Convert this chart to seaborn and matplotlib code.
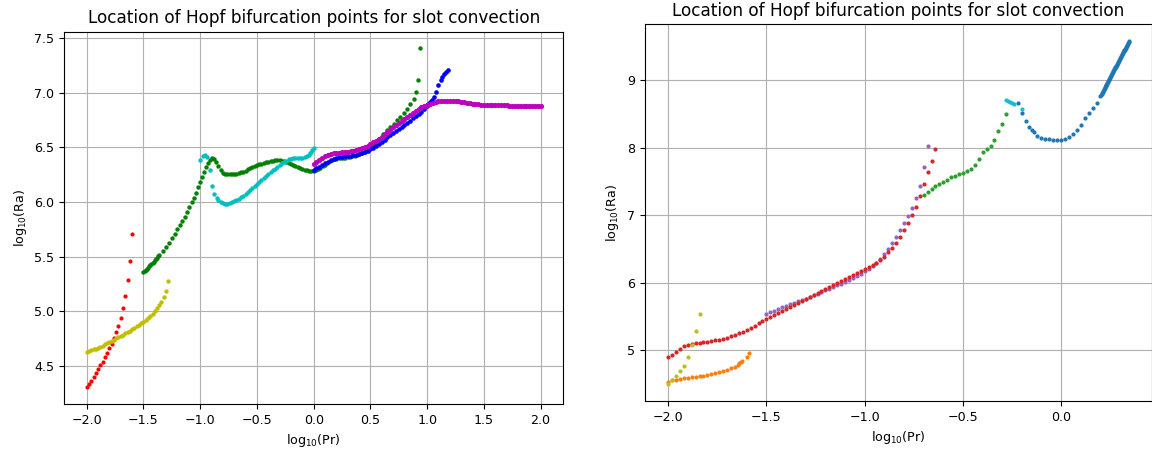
import matplotlib
matplotlib.use("Agg")
import matplotlib.pyplot as plt
import seaborn as sns

# ---------------- left panel: branches of Hopf points ----------------
red_pr = [-2.00, -1.98, -1.96, -1.94, -1.92, -1.90, -1.88, -1.86, -1.84, -1.82, -1.80,
          -1.78, -1.76, -1.74, -1.72, -1.70, -1.68, -1.66, -1.64, -1.62, -1.60]
red_ra = [4.302, 4.332, 4.363, 4.399, 4.433, 4.470, 4.503, 4.537, 4.577, 4.617, 4.660,
          4.702, 4.754, 4.806, 4.867, 4.940, 5.029, 5.142, 5.286, 5.463, 5.711]

yel_pr = [-2.00, -1.98, -1.96, -1.94, -1.92, -1.90, -1.88, -1.86, -1.84, -1.82, -1.80,
          -1.78, -1.76, -1.74, -1.72, -1.70, -1.68, -1.66, -1.64, -1.62, -1.60, -1.58,
          -1.56, -1.54, -1.52, -1.50, -1.48, -1.46, -1.44, -1.42, -1.40, -1.384, -1.366,
          -1.346, -1.322, -1.299, -1.282]
yel_ra = [4.626, 4.634, 4.642, 4.650, 4.658, 4.666, 4.675, 4.685, 4.695, 4.706, 4.717,
          4.728, 4.739, 4.750, 4.762, 4.774, 4.786, 4.798, 4.810, 4.823, 4.836, 4.849,
          4.862, 4.876, 4.890, 4.904, 4.920, 4.936, 4.953, 4.972, 4.998, 5.026, 5.054,
          5.087, 5.127, 5.185, 5.277]

grn_pr = [-1.500, -1.490, -1.480, -1.470, -1.460, -1.450, -1.440, -1.430, -1.420, -1.410,
          -1.400, -1.390, -1.380, -1.370, -1.361, -1.331, -1.302, -1.276, -1.249, -1.225,
          -1.202, -1.179, -1.158, -1.137, -1.117, -1.097, -1.076, -1.055, -1.038, -1.020,
          -1.003, -0.985, -0.967, -0.950, -0.932, -0.915, -0.897, -0.879, -0.862, -0.844,
          -0.820,
          -0.80, -0.78, -0.76, -0.74, -0.72, -0.70, -0.68, -0.66, -0.64, -0.62, -0.60,
          -0.58, -0.56, -0.54, -0.52, -0.50, -0.48, -0.46, -0.44, -0.42, -0.40, -0.38,
          -0.36, -0.34, -0.32, -0.30, -0.28, -0.26, -0.24, -0.22, -0.20, -0.18, -0.16,
          -0.14, -0.12, -0.10, -0.08, -0.06, -0.04, -0.02, 0.00,
          0.02, 0.04, 0.06, 0.08, 0.10, 0.12, 0.14, 0.16, 0.18, 0.20, 0.22, 0.24, 0.26,
          0.28, 0.30, 0.32, 0.34, 0.36, 0.38, 0.40, 0.42, 0.44, 0.46, 0.48, 0.50, 0.52,
          0.54, 0.56, 0.58,
          0.611, 0.646, 0.676, 0.705, 0.734, 0.764, 0.793, 0.822, 0.852, 0.881, 0.902,
          0.919, 0.940]
grn_ra = [5.362, 5.370, 5.379, 5.389, 5.400, 5.411, 5.422, 5.433, 5.444, 5.455,
          5.467, 5.479, 5.491, 5.503, 5.512, 5.549, 5.589, 5.628, 5.669, 5.708,
          5.751, 5.791, 5.830, 5.867, 5.910, 5.953, 5.996, 6.039, 6.082, 6.133,
          6.179, 6.228, 6.271, 6.320, 6.357, 6.387, 6.403, 6.394, 6.362, 6.326,
          6.295,
          6.266, 6.261, 6.257, 6.255, 6.255, 6.257, 6.261, 6.266, 6.272, 6.279, 6.288,
          6.298, 6.308, 6.318, 6.327, 6.336, 6.344, 6.352, 6.359, 6.365, 6.371, 6.376,
          6.380, 6.382, 6.383, 6.382, 6.379, 6.373, 6.366, 6.358, 6.349, 6.340, 6.331,
          6.321, 6.312, 6.303, 6.296, 6.290, 6.286, 6.284, 6.284,
          6.290, 6.300, 6.313, 6.328, 6.343, 6.358, 6.372, 6.383, 6.391, 6.396, 6.399,
          6.402, 6.404, 6.406, 6.409, 6.413, 6.418, 6.424, 6.431, 6.439, 6.448, 6.458,
          6.470, 6.484, 6.499, 6.515, 6.533, 6.553, 6.578,
          6.626, 6.656, 6.684, 6.715, 6.748, 6.779, 6.812, 6.852, 6.901, 6.947, 7.011,
          7.115, 7.408]

cyn_pr = [-1.003, -0.979, -0.959, -0.941, -0.917, -0.897, -0.879, -0.856,
          -0.84, -0.82, -0.80, -0.78, -0.76, -0.74, -0.72, -0.70, -0.68, -0.66, -0.64,
          -0.62, -0.60, -0.58, -0.56, -0.54, -0.52, -0.50, -0.48, -0.46, -0.44, -0.42,
          -0.40, -0.38, -0.36, -0.34, -0.32, -0.30, -0.28, -0.26, -0.24, -0.22, -0.20,
          -0.18, -0.16, -0.14, -0.12, -0.10, -0.08, -0.06,
          -0.045, -0.034, -0.024, -0.014, 0.003]
cyn_ra = [6.381, 6.418, 6.433, 6.412, 6.293, 6.151, 6.078, 6.036,
          6.018, 6.002, 5.992, 5.986, 5.985, 5.989, 5.996, 6.006, 6.017, 6.030, 6.044,
          6.059, 6.075, 6.092, 6.109, 6.126, 6.144, 6.162, 6.180, 6.199, 6.217, 6.235,
          6.253, 6.271, 6.289, 6.307, 6.325, 6.341, 6.356, 6.369, 6.380, 6.390, 6.397,
          6.401, 6.404, 6.405, 6.406, 6.407, 6.410, 6.420,
          6.432, 6.448, 6.462, 6.474, 6.494]

blu_pr = [0.000, 0.025, 0.050, 0.075, 0.100, 0.125, 0.150, 0.175, 0.200, 0.225, 0.250,
          0.275, 0.300, 0.325, 0.350, 0.375, 0.400, 0.425, 0.450, 0.475, 0.500, 0.525,
          0.550, 0.575, 0.600, 0.625, 0.650, 0.675, 0.700, 0.725, 0.750, 0.775, 0.800,
          0.825, 0.850, 0.875, 0.900, 0.925, 0.950, 0.975,
          0.995, 1.010, 1.025, 1.040, 1.057, 1.078, 1.100, 1.119, 1.134, 1.148, 1.163, 1.180]
blu_ra = [6.295, 6.310, 6.325, 6.340, 6.355, 6.370, 6.384, 6.396, 6.404, 6.410, 6.414,
          6.417, 6.420, 6.423, 6.427, 6.432, 6.439, 6.447, 6.457, 6.469, 6.483, 6.498,
          6.515, 6.533, 6.552, 6.572, 6.592, 6.612, 6.632, 6.651, 6.670, 6.689, 6.708,
          6.727, 6.746, 6.765, 6.785, 6.805, 6.826, 6.850,
          6.875, 6.895, 6.915, 6.935, 6.965, 7.011, 7.070, 7.121, 7.146, 7.173, 7.195, 7.212]

mag_pr = [0.000, 0.025, 0.050, 0.075, 0.100, 0.125, 0.150, 0.175, 0.200, 0.225, 0.250,
          0.275, 0.300, 0.325, 0.350, 0.375, 0.400, 0.425, 0.450, 0.475, 0.500, 0.525,
          0.550, 0.575, 0.600, 0.625, 0.650, 0.675, 0.700, 0.725, 0.750, 0.775, 0.800,
          0.825, 0.850, 0.875, 0.900, 0.925, 0.950, 0.975, 1.000, 1.025, 1.050, 1.075,
          1.100, 1.125, 1.150, 1.175, 1.200, 1.225, 1.250, 1.275, 1.300, 1.325, 1.350,
          1.375, 1.400, 1.425, 1.450, 1.475, 1.500, 1.525, 1.550, 1.575, 1.600, 1.625,
          1.650, 1.675, 1.700, 1.725, 1.750, 1.775, 1.800, 1.825, 1.850, 1.875, 1.900,
          1.925, 1.950, 1.975, 2.000]
mag_ra = [6.345, 6.365, 6.385, 6.405, 6.420, 6.432, 6.440, 6.446, 6.450, 6.453, 6.456,
          6.459, 6.462, 6.466, 6.471, 6.477, 6.484, 6.493, 6.504, 6.516, 6.530, 6.546,
          6.563, 6.581, 6.600, 6.620, 6.641, 6.662, 6.683, 6.704, 6.724, 6.744, 6.763,
          6.782, 6.800, 6.818, 6.835, 6.851, 6.866, 6.880, 6.892, 6.902, 6.910, 6.916,
          6.921, 6.924, 6.926, 6.927, 6.927, 6.926, 6.925, 6.922, 6.918, 6.913, 6.908,
          6.903, 6.899, 6.896, 6.894, 6.893, 6.892, 6.891, 6.890, 6.890, 6.889, 6.888,
          6.887, 6.886, 6.885, 6.884, 6.883, 6.882, 6.881, 6.880, 6.880, 6.879, 6.878,
          6.878, 6.877, 6.877, 6.876]

# ---------------- right panel ----------------
c0_pr = [-0.220, -0.200, -0.181, -0.163, -0.151, -0.141, -0.122, -0.102, -0.081, -0.061,
         -0.041, -0.020, 0.000, 0.020, 0.039, 0.060, 0.080, 0.100, 0.119, 0.139, 0.160,
         0.180, 0.198,
         0.2025, 0.2050, 0.2075, 0.2100, 0.2125, 0.2150, 0.2175, 0.2200, 0.2225, 0.2250,
         0.2275, 0.2300, 0.2325, 0.2350, 0.2375, 0.2400, 0.2425, 0.2450, 0.2475, 0.2500,
         0.2525, 0.2550, 0.2575, 0.2600, 0.2625, 0.2650, 0.2675, 0.2700, 0.2725, 0.2750,
         0.2775, 0.2800, 0.2825, 0.2850, 0.2875, 0.2900, 0.2925, 0.2950, 0.2975, 0.3000,
         0.3025, 0.3050, 0.3075, 0.3100, 0.3125, 0.3150, 0.3175, 0.3200, 0.3225, 0.3250,
         0.3275, 0.3300, 0.3325, 0.3350, 0.3375, 0.3400, 0.3425, 0.3450]
c0_ra = [8.654, 8.506, 8.397, 8.309, 8.259, 8.225, 8.175, 8.145, 8.130, 8.126,
         8.116, 8.106, 8.106, 8.126, 8.156, 8.195, 8.255, 8.333, 8.432, 8.506, 8.580,
         8.664, 8.760,
         8.777, 8.791, 8.806, 8.820, 8.834, 8.848, 8.862, 8.876, 8.890, 8.905,
         8.919, 8.933, 8.947, 8.961, 8.975, 8.990, 9.004, 9.018, 9.032, 9.046,
         9.060, 9.074, 9.088, 9.102, 9.116, 9.130, 9.144, 9.158, 9.172, 9.186,
         9.200, 9.214, 9.228, 9.242, 9.256, 9.270, 9.284, 9.298, 9.312, 9.326,
         9.340, 9.354, 9.368, 9.382, 9.396, 9.410, 9.424, 9.438, 9.452, 9.466,
         9.480, 9.494, 9.508, 9.522, 9.536, 9.550, 9.564, 9.578]

c1_pr = [-2.00, -1.98, -1.96, -1.94, -1.92, -1.90, -1.88, -1.86, -1.84, -1.82, -1.80,
         -1.78, -1.76, -1.74, -1.72, -1.70, -1.68, -1.66, -1.645, -1.638, -1.631, -1.624,
         -1.600, -1.590]
c1_ra = [4.531, 4.551, 4.561, 4.570, 4.580, 4.585, 4.595, 4.605, 4.615, 4.620, 4.630,
         4.644, 4.654, 4.669, 4.689, 4.708, 4.728, 4.753, 4.775, 4.802, 4.822, 4.837,
         4.901, 4.951]

c2_pr = [-0.70, -0.68, -0.66, -0.64, -0.62, -0.60, -0.58, -0.56, -0.54, -0.52, -0.50,
         -0.48, -0.46, -0.44, -0.42, -0.40, -0.38, -0.36, -0.34, -0.32, -0.30, -0.28]
c2_ra = [7.300, 7.341, 7.381, 7.425, 7.459, 7.489, 7.523, 7.558, 7.582, 7.602, 7.627,
         7.652, 7.686, 7.736, 7.825, 7.938, 7.982, 8.027, 8.116, 8.244, 8.353, 8.496]

c3_pr = [-2.00, -1.98, -1.96, -1.94, -1.92, -1.90, -1.88, -1.86, -1.84, -1.82, -1.80,
         -1.78, -1.76, -1.74, -1.72, -1.70, -1.68, -1.66, -1.64, -1.62, -1.60, -1.58,
         -1.56, -1.54, -1.52, -1.50, -1.48, -1.46, -1.44, -1.42, -1.40, -1.38, -1.36,
         -1.34, -1.32, -1.30, -1.28, -1.26, -1.24, -1.22, -1.20, -1.18, -1.16, -1.14,
         -1.12, -1.10, -1.08, -1.06, -1.04, -1.02, -1.00, -0.98, -0.96, -0.94, -0.92,
         -0.90, -0.88, -0.86, -0.84, -0.82, -0.80, -0.78, -0.76, -0.74, -0.72, -0.70,
         -0.68, -0.66, -0.64]
c3_ra = [4.892, 4.926, 4.970, 5.020, 5.054, 5.069, 5.084, 5.099, 5.104, 5.114, 5.123,
         5.133, 5.143, 5.153, 5.168, 5.183, 5.203, 5.222, 5.247, 5.272, 5.296, 5.326,
         5.360, 5.395, 5.425, 5.459, 5.494, 5.523, 5.553, 5.583, 5.612, 5.642, 5.671,
         5.701, 5.730, 5.760, 5.790, 5.819, 5.849, 5.879, 5.908, 5.938, 5.967, 5.997,
         6.022, 6.050, 6.080, 6.110, 6.140, 6.170, 6.205, 6.230, 6.260, 6.295, 6.335,
         6.385, 6.447, 6.510, 6.585, 6.670, 6.773, 6.881, 6.995, 7.123, 7.286, 7.459,
         7.637, 7.795, 7.973]

c4_pr = [-1.50, -1.48, -1.46, -1.44, -1.42, -1.40, -1.38, -1.36, -1.34, -1.32, -1.30,
         -1.28, -1.26, -1.24, -1.22, -1.20, -1.18, -1.16, -1.14, -1.12, -1.10, -1.08,
         -1.06, -1.04, -1.02, -1.00, -0.98, -0.96, -0.94, -0.92, -0.90, -0.88, -0.86,
         -0.84, -0.82, -0.80, -0.78, -0.76, -0.74, -0.72, -0.70, -0.68]
c4_ra = [5.538, 5.563, 5.583, 5.607, 5.632, 5.652, 5.677, 5.696, 5.721, 5.741, 5.762,
         5.785, 5.810, 5.835, 5.860, 5.885, 5.910, 5.935, 5.960, 5.985, 6.010, 6.040,
         6.070, 6.100, 6.130, 6.165, 6.200, 6.240, 6.290, 6.350, 6.420, 6.500, 6.580,
         6.680, 6.780, 6.880, 6.990, 7.110, 7.250, 7.430, 7.711, 8.022]

c8_pr = [-2.00, -1.98, -1.96, -1.94, -1.92, -1.90, -1.88, -1.86, -1.84]
c8_ra = [4.496, 4.550, 4.610, 4.684, 4.768, 4.891, 5.069, 5.286, 5.538]

c9_pr = [-0.281, -0.270, -0.261, -0.250, -0.240, -0.202]
c9_ra = [8.708, 8.690, 8.679, 8.665, 8.650, 8.575]

TITLE = "Location of Hopf bifurcation points for slot convection"
XLABEL = r"log$_{10}$(Pr)"
YLABEL = r"log$_{10}$(Ra)"

plt.rcParams["font.size"] = 9.1
plt.rcParams["axes.titlesize"] = 12.2

fig = plt.figure(figsize=(11.52, 4.51), dpi=100)
ax1 = fig.add_axes([0.05556, 0.10421, 0.43342, 0.82550])
ax2 = fig.add_axes([0.55964, 0.11086, 0.43993, 0.83592])

left_series = [
    (red_pr, red_ra, "r", 9),
    (yel_pr, yel_ra, "y", 10),
    (grn_pr, grn_ra, "g", 10),
    (cyn_pr, cyn_ra, "c", 10),
    (blu_pr, blu_ra, "b", 11),
    (mag_pr, mag_ra, "m", 14),
]
for xs, ys, col, size in left_series:
    sns.scatterplot(x=xs, y=ys, color=col, s=size, linewidth=0, ax=ax1, zorder=2)

right_series = [
    (c0_pr, c0_ra, "tab:blue"),
    (c1_pr, c1_ra, "tab:orange"),
    (c2_pr, c2_ra, "tab:green"),
    (c4_pr, c4_ra, "tab:purple"),
    (c3_pr, c3_ra, "tab:red"),
    (c8_pr, c8_ra, "tab:olive"),
    (c9_pr, c9_ra, "tab:cyan"),
]
for xs, ys, col in right_series:
    sns.scatterplot(x=xs, y=ys, color=col, s=9, linewidth=0, ax=ax2, zorder=2)

ax1.set_xlim(-2.2, 2.2)
ax1.set_ylim(4.15, 7.56)
ax2.set_xlim(-2.119, 0.459)
ax2.set_ylim(4.245, 9.83)

for ax in (ax1, ax2):
    ax.grid(True, color="#b0b0b0", linewidth=0.8)
    ax.set_axisbelow(True)
    ax.set_title(TITLE)
    ax.set_xlabel(XLABEL)
    ax.set_ylabel(YLABEL)

fig.savefig("out.png", dpi=100)
